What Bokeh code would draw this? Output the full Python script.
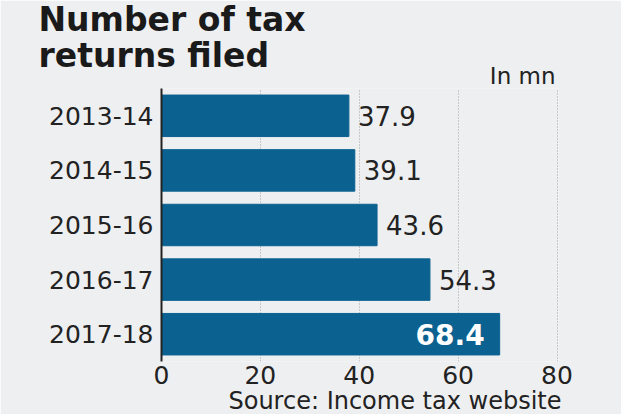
from bokeh.plotting import figure
from bokeh.models import Range1d, FactorRange, Title, FixedTicker, ColumnDataSource
from bokeh.core.properties import value
from bokeh.embed import file_html
from bokeh.resources import INLINE

years = ["2013-14", "2014-15", "2015-16", "2016-17", "2017-18"]
returns_mn = [37.9, 39.1, 43.6, 54.3, 68.4]
x_ticks = [0, 20, 40, 60, 80]
labels = ["37.9", "39.1", "43.6", "54.3", "68.4"]

BG = "#eeeff1"
BAR = "#0b6190"
INK = "#222222"
FONT = "DejaVu Sans"

W, H = 621, 414
p = figure(width=W, height=H, output_backend="svg", toolbar_location=None,
           y_range=FactorRange(factors=list(reversed(years)), range_padding=0),
           x_range=Range1d(0, 80.3),
           min_border_left=161, min_border_right=63, min_border_top=88, min_border_bottom=53)
p.background_fill_color = BG
p.border_fill_color = BG
p.outline_line_color = None

src = ColumnDataSource(dict(y=years, v=returns_mn, lab=labels))
p.hbar(y="y", right="v", left=0, height=0.76, color=BAR, source=src)

outside = ColumnDataSource(dict(y=years[:-1], v=returns_mn[:-1], lab=labels[:-1]))
inside = ColumnDataSource(dict(y=years[-1:], v=returns_mn[-1:], lab=labels[-1:]))
p.text(x="v", y="y", text="lab", source=outside, x_offset=9, text_align="left",
       text_baseline="middle", text_font=value(FONT), text_font_size="26px", text_color=INK)
p.text(x="v", y="y", text="lab", source=inside, x_offset=-15, text_align="right",
       text_baseline="middle", text_font=value(FONT), text_font_size="28px",
       text_font_style="bold", text_color="white")

p.ygrid.grid_line_color = None
p.xgrid.grid_line_color = "#a0a0a0"
p.xgrid.grid_line_dash = "1 2"
p.xgrid.grid_line_width = 1
p.xgrid.ticker = FixedTicker(ticks=x_ticks[1:])

p.xaxis.ticker = FixedTicker(ticks=x_ticks)
p.xaxis.axis_line_color = None
p.xaxis.major_tick_line_color = None
p.xaxis.minor_tick_line_color = None
p.xaxis.major_tick_out = 0
p.xaxis.major_label_text_font = FONT
p.xaxis.major_label_text_font_size = "25px"
p.xaxis.major_label_text_color = INK
p.xaxis.major_label_standoff = 4

p.yaxis.axis_line_color = INK
p.yaxis.axis_line_width = 2
p.yaxis.major_tick_line_color = None
p.yaxis.minor_tick_line_color = None
p.yaxis.major_tick_out = 0
p.yaxis.major_label_text_font = FONT
p.yaxis.major_label_text_font_size = "25px"
p.yaxis.major_label_text_color = INK
p.yaxis.major_label_standoff = 8

p.title = None
p.add_layout(Title(text="In mn", align="right", offset=3, standoff=0,
                   text_font=FONT, text_font_size="23px", text_font_style="normal",
                   text_color=INK), "above")
p.add_layout(Title(text="Number of tax\nreturns filed", align="left", offset=-123, standoff=-30,
                   text_font=FONT, text_font_size="33px", text_font_style="bold",
                   text_line_height=0.94, text_color="#1a1a1a"), "above")
p.add_layout(Title(text=" ", align="left", standoff=0,
                   text_font=FONT, text_font_size="9px"), "above")
p.add_layout(Title(text="Source: Income tax website", align="right", offset=-3, standoff=-4,
                   text_font=FONT, text_font_size="24px", text_font_style="normal",
                   text_color=INK), "below")

open("out.html", "w").write(file_html(p, INLINE))
